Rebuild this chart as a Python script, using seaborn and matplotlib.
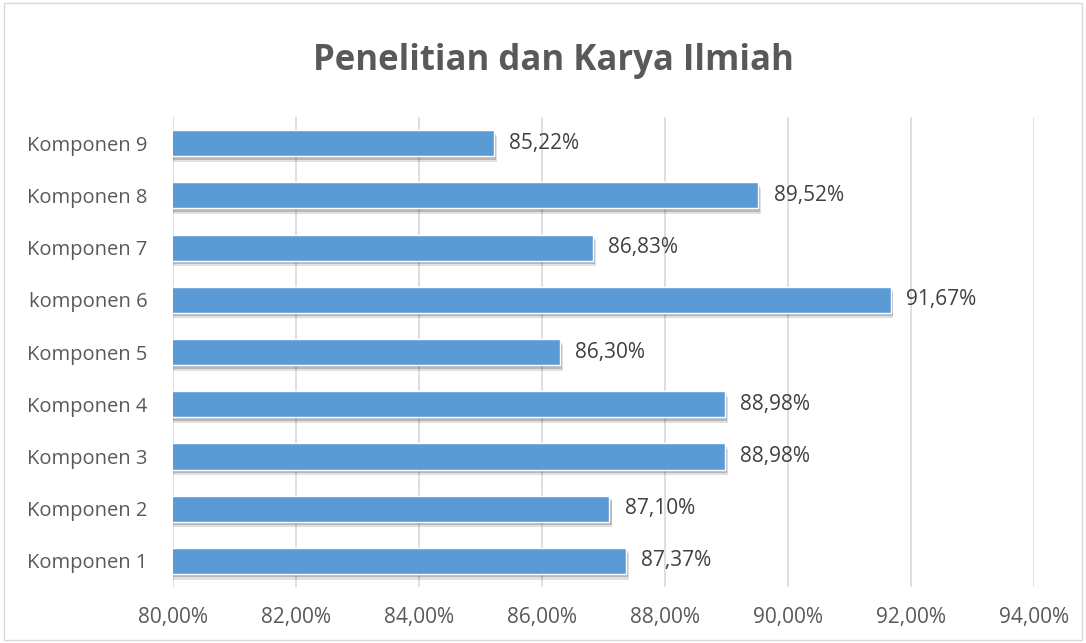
import seaborn as sns
import matplotlib.pyplot as plt
import matplotlib.patheffects as pe
import pandas as pd

komponen = ["Komponen 9", "Komponen 8", "Komponen 7", "komponen 6", "Komponen 5",
            "Komponen 4", "Komponen 3", "Komponen 2", "Komponen 1"]
nilai = [85.22, 89.52, 86.83, 91.67, 86.30, 88.98, 88.98, 87.10, 87.37]
xticks = [80, 82, 84, 86, 88, 90, 92, 94]


def fmt(v):
    return f"{v:.2f}".replace(".", ",") + "%"


def main():
    sns.set_style("white")
    plt.rcParams["font.family"] = ["Open Sans", "DejaVu Sans"]
    grey = "#595959"

    df = pd.DataFrame({"komponen": komponen, "nilai": nilai})

    fig = plt.figure(figsize=(10.86, 6.43), dpi=100)
    ax = fig.add_axes([0.159, 0.087, 0.793, 0.731])

    sns.barplot(data=df, x="nilai", y="komponen", color="#5b9bd5", saturation=1,
                width=0.5, ax=ax, zorder=3)
    for p in ax.patches:
        p.set_path_effects([
            pe.SimplePatchShadow(offset=(2, -4), alpha=0.12, shadow_rgbFace="#000000"),
            pe.SimplePatchShadow(offset=(1.5, -2.5), alpha=0.18, shadow_rgbFace="#000000"),
            pe.Normal()])

    ax.bar_label(ax.containers[0], labels=[fmt(v) for v in nilai], padding=11,
                 fontsize=15, color="#404040")

    ax.set_xlim(80, 94)
    ax.set_xticks(xticks)
    ax.set_xticklabels([fmt(t) for t in xticks], fontsize=15, color=grey)
    ax.tick_params(axis="y", labelsize=14.5, labelcolor=grey, length=0, pad=18)
    ax.tick_params(axis="x", length=0, pad=14)
    ax.grid(axis="x", color="#d9d9d9", linewidth=1.2, zorder=0)
    ax.set_axisbelow(True)
    ax.set_xlabel("")
    ax.set_ylabel("")
    for s in ax.spines.values():
        s.set_visible(False)

    fig.text(0.51, 0.905, "Penelitian dan Karya Ilmiah", ha="center", va="center",
             fontsize=25, fontweight="bold", color=grey)

    border = plt.Rectangle((0.004, 0.004), 0.992, 0.992, transform=fig.transFigure,
                           fill=False, edgecolor="#d9d9d9", linewidth=1)
    fig.add_artist(border)

    fig.savefig("out.png", dpi=100)


if __name__ == "__main__":
    main()
